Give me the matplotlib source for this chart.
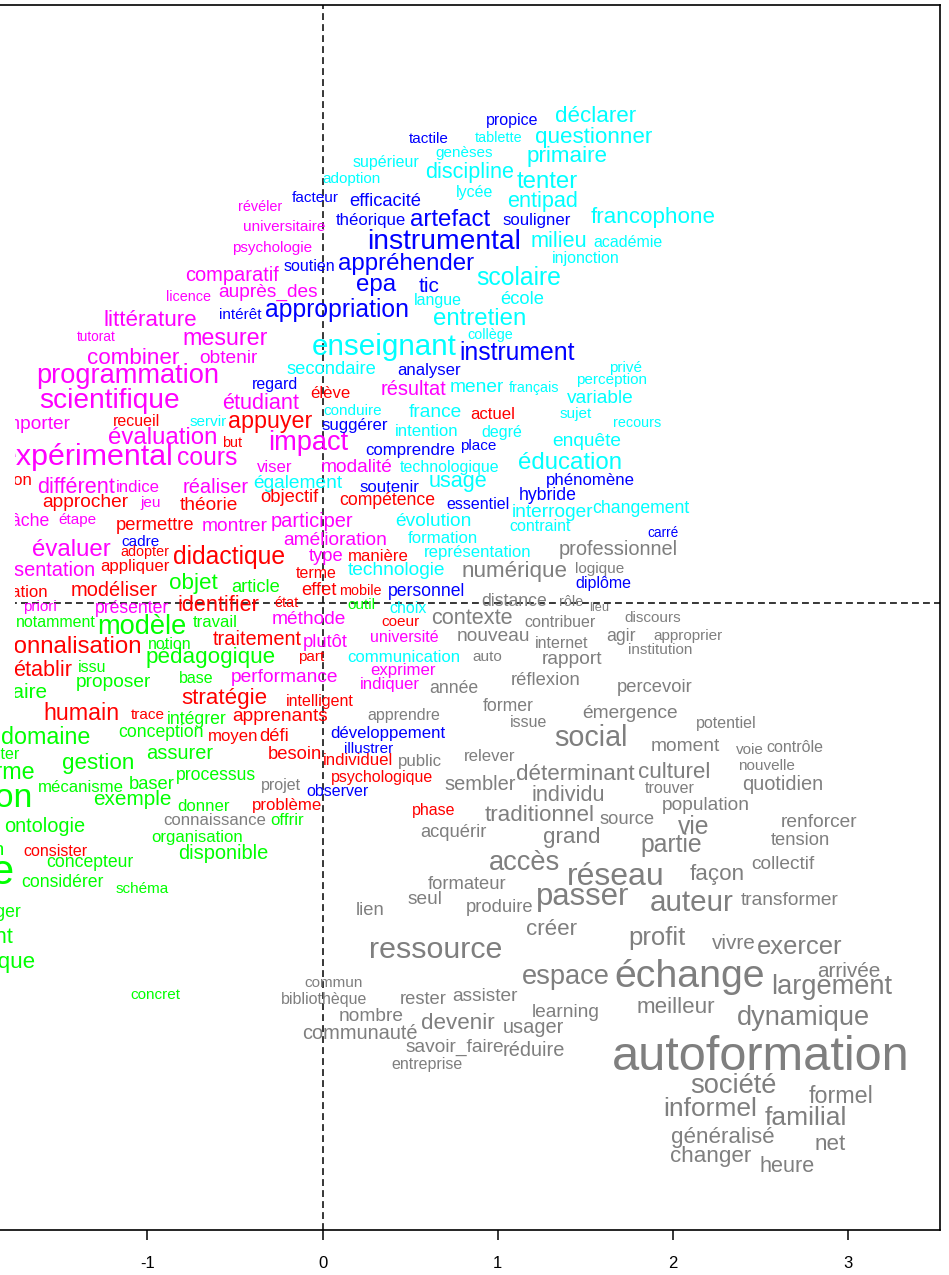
import matplotlib
matplotlib.use("Agg")
import matplotlib.pyplot as plt
from matplotlib.patches import Rectangle

plt.rcParams['font.family'] = ['Liberation Sans', 'DejaVu Sans']

###########################
# Data (factor coordinates, relative text size)
###########################

magenta_words = ['révéler', 'universitaire', 'psychologie', 'comparatif', 'licence', 'auprès_des',
                 'littérature', 'tutorat', 'mesurer', 'combiner', 'obtenir', 'programmation',
                 'scientifique', 'étudiant', 'résultat', 'importer', 'évaluation', 'impact',
                 'expérimental', 'cours', 'viser', 'différent', 'indice', 'réaliser', 'jeu',
                 'tâche', 'étape', 'montrer', 'participer', 'amélioration', 'évaluer', 'type',
                 'présentation', 'modalité', 'priori', 'présenter', 'méthode', 'plutôt',
                 'université', 'performance', 'exprimer', 'indiquer']
magenta_x = [-0.357, -0.220, -0.288, -0.517, -0.768, -0.311, -0.985, -1.294, -0.557, -1.082,
             -0.540, -1.111, -1.214, -0.351, 0.517, -1.636, -0.911, -0.083, -1.345, -0.660,
             -0.271, -1.408, -1.054, -0.608, -0.979, -1.682, -1.402, -0.500, -0.060, 0.071,
             -1.436, 0.020, -1.608, 0.197, -1.613, -1.088, -0.077, 0.014, 0.465, -0.214,
             0.460, 0.385]
magenta_y = [2.262, 2.147, 2.027, 1.873, 1.748, 1.776, 1.616, 1.519, 1.513, 1.399,
             1.399, 1.296, 1.154, 1.142, 1.222, 1.022, 0.942, 0.914, 0.834, 0.828,
             0.771, 0.662, 0.662, 0.662, 0.571, 0.468, 0.474, 0.434, 0.463, 0.354,
             0.303, 0.263, 0.188, 0.771, -0.023, -0.029, -0.097, -0.228, -0.200, -0.423,
             -0.383, -0.468]
magenta_cex = [0.9, 0.95, 0.95, 1.25, 0.9, 1.2, 1.4, 0.85, 1.45, 1.4,
               1.2, 1.7, 1.75, 1.35, 1.25, 1.2, 1.5, 1.7, 1.9, 1.55,
               1.05, 1.35, 1.05, 1.25, 0.95, 1.1, 0.95, 1.2, 1.25, 1.2,
               1.5, 1.15, 1.25, 1.2, 0.95, 1.1, 1.2, 1.15, 1.0, 1.2,
               1.05, 1.05]

blue_words = ['propice', 'tactile', 'facteur', 'efficacité', 'théorique', 'artefact', 'souligner',
              'instrumental', 'soutien', 'appréhender', 'epa', 'tic', 'intérêt', 'appropriation',
              'instrument', 'regard', 'analyser', 'suggérer', 'comprendre', 'place', 'phénomène',
              'soutenir', 'hybride', 'essentiel', 'cadre', 'carré', 'diplôme', 'personnel',
              'développement', 'illustrer', 'observer']
blue_x = [1.082, 0.608, -0.043, 0.357, 0.277, 0.728, 1.225, 0.694, -0.077, 0.477,
          0.306, 0.608, -0.471, 0.083, 1.111, -0.271, 0.608, 0.186, 0.500, 0.888,
          1.528, 0.380, 1.288, 0.888, -1.042, 1.945, 1.602, 0.597, 0.374, 0.266, 0.083]
blue_y = [2.758, 2.650, 2.313, 2.290, 2.182, 2.187, 2.187, 2.062, 1.919, 1.936,
          1.816, 1.805, 1.645, 1.673, 1.428, 1.245, 1.325, 1.011, 0.868, 0.897,
          0.702, 0.657, 0.611, 0.560, 0.348, 0.400, 0.114, 0.063, -0.748, -0.834, -1.079]
blue_cex = [1.0, 0.95, 0.95, 1.15, 1.05, 1.5, 1.05, 1.77, 1.0, 1.5,
            1.5, 1.3, 0.95, 1.55, 1.55, 1.0, 1.05, 1.05, 1.05, 0.95,
            1.05, 1.05, 1.1, 1.0, 0.95, 0.85, 1.0, 1.1, 1.05, 0.95, 1.0]

cyan_words = ['déclarer', 'tablette', 'questionner', 'genèses', 'primaire', 'supérieur',
              'discipline', 'tenter', 'adoption', 'lycée', 'entipad', 'francophone', 'milieu',
              'académie', 'injonction', 'scolaire', 'langue', 'école', 'entretien', 'collège',
              'enseignant', 'secondaire', 'privé', 'perception', 'mener', 'français',
              'variable', 'servir', 'conduire', 'france', 'sujet', 'recours', 'intention',
              'degré', 'enquête', 'éducation', 'technologique', 'également', 'usage',
              'interroger', 'changement', 'évolution', 'contraint', 'formation',
              'représentation', 'technologie', 'choix', 'communication']
cyan_x = [1.562, 1.008, 1.551, 0.808, 1.396, 0.363, 0.842, 1.282, 0.168, 0.871,
          1.254, 1.887, 1.351, 1.745, 1.505, 1.122, 0.660, 1.139, 0.899, 0.957,
          0.351, 0.049, 1.733, 1.653, 0.882, 1.208, 1.585, -0.654, 0.174, 0.642,
          1.448, 1.796, 0.597, 1.025, 1.511, 1.413, 0.728, -0.140, 0.774, 1.311,
          1.819, 0.631, 1.242, 0.688, 0.888, 0.425, 0.488, 0.465]
cyan_y = [2.776, 2.656, 2.661, 2.570, 2.547, 2.513, 2.461, 2.404, 2.421, 2.347,
          2.290, 2.204, 2.062, 2.056, 1.965, 1.856, 1.730, 1.736, 1.622, 1.531,
          1.462, 1.336, 1.342, 1.274, 1.228, 1.228, 1.165, 1.034, 1.097, 1.085,
          1.079, 1.028, 0.982, 0.971, 0.925, 0.800, 0.771, 0.680, 0.691, 0.514,
          0.537, 0.463, 0.434, 0.371, 0.286, 0.183, -0.029, -0.314]
cyan_cex = [1.4, 0.9, 1.4, 0.95, 1.4, 1.0, 1.35, 1.5, 0.95, 1.0,
            1.35, 1.4, 1.35, 1.0, 1.0, 1.55, 1.0, 1.15, 1.5, 0.9,
            1.85, 1.15, 0.95, 0.95, 1.2, 0.9, 1.2, 0.95, 0.95, 1.2,
            0.95, 0.9, 1.05, 1.0, 1.2, 1.5, 1.0, 1.2, 1.35, 1.2,
            1.1, 1.2, 1.0, 1.05, 1.05, 1.2, 1.0, 1.05]

red_words = ['élève', 'recueil', 'appuyer', 'but', 'actuel', 'action', 'approcher', 'théorie',
             'objectif', 'compétence', 'permettre', 'adopter', 'didactique', 'manière',
             'appliquer', 'terme', 'situation', 'modéliser', 'effet', 'mobile', 'identifier',
             'état', 'coeur', 'personnalisation', 'traitement', 'part', 'établir', 'stratégie',
             'intelligent', 'humain', 'trace', 'apprenants', 'moyen', 'défi', 'besoin',
             'individuel', 'psychologique', 'problème', 'phase', 'consister']
red_x = [0.043, -1.065, -0.300, -0.517, 0.974, -1.785, -1.356, -0.648, -0.191, 0.368,
         -0.957, -1.014, -0.534, 0.317, -1.071, -0.037, -1.745, -1.191, -0.020, 0.214,
         -0.597, -0.208, 0.448, -1.528, -0.374, -0.066, -1.596, -0.563, -0.014, -1.379,
         -0.997, -0.243, -0.511, -0.277, -0.157, 0.203, 0.340, -0.203, 0.637, -1.528]
red_y = [1.199, 1.034, 1.039, 0.914, 1.074, 0.702, 0.571, 0.554, 0.600, 0.583,
         0.445, 0.291, 0.263, 0.263, 0.206, 0.171, 0.057, 0.069, 0.069, 0.069,
         -0.017, 0.000, -0.109, -0.251, -0.206, -0.308, -0.383, -0.543, -0.565, -0.634,
         -0.640, -0.651, -0.760, -0.765, -0.868, -0.902, -0.994, -1.154, -1.188, -1.422]
red_cex = [1.05, 1.0, 1.45, 0.9, 1.05, 1.05, 1.2, 1.2, 1.15, 1.1,
           1.15, 0.9, 1.55, 1.05, 1.05, 1.0, 1.05, 1.25, 1.15, 0.9,
           1.35, 0.9, 0.95, 1.5, 1.25, 0.95, 1.35, 1.4, 1.0, 1.45,
           0.95, 1.2, 1.05, 1.15, 1.15, 1.05, 1.0, 1.05, 1.0, 1.0]

green_words = ['objet', 'article', 'outil', 'notamment', 'modèle', 'travail', 'notion',
               'pédagogique', 'issu', 'base', 'proposer', 'vocabulaire', 'intégrer', 'domaine',
               'adapter', 'conception', 'assurer', 'gestion', 'forme', 'mécanisme', 'baser',
               'processus', 'information', 'exemple', 'donner', 'ontologie', 'offrir',
               'organisation', 'définition', 'disponible', 'concepteur', 'apprentissage',
               'considérer', 'schéma', 'partager', 'document', 'sémantique', 'concret']
green_x = [-0.740, -0.380, 0.220, -1.522, -1.031, -0.614, -0.871, -0.637, -1.316, -0.722,
           -1.196, -1.870, -0.717, -1.579, -1.882, -0.922, -0.814, -1.282, -1.808, -1.379,
           -0.974, -0.608, -2.127, -1.088, -0.677, -1.585, -0.203, -0.717, -2.036, -0.568,
           -1.328, -2.504, -1.488, -1.031, -1.905, -2.036, -1.973, -0.957]
green_y = [0.109, 0.091, -0.011, -0.114, -0.137, -0.114, -0.240, -0.314, -0.366, -0.434,
           -0.457, -0.514, -0.668, -0.771, -0.868, -0.742, -0.857, -0.914, -0.971, -1.051,
           -1.039, -0.988, -1.114, -1.125, -1.165, -1.279, -1.245, -1.342, -1.416, -1.428,
           -1.485, -1.542, -1.599, -1.633, -1.770, -1.913, -2.056, -2.239]
green_cex = [1.4, 1.15, 0.95, 1.0, 1.7, 1.05, 1.0, 1.4, 1.0, 1.0,
             1.2, 1.3, 1.1, 1.45, 1.0, 1.1, 1.25, 1.4, 1.45, 1.05,
             1.15, 1.1, 2.1, 1.3, 1.05, 1.25, 1.05, 1.05, 1.2, 1.25,
             1.1, 2.6, 1.1, 0.95, 1.1, 1.35, 1.4, 0.95]

gray_words = ['professionnel', 'numérique', 'logique', 'distance', 'rôle', 'lieu', 'contexte',
              'contribuer', 'discours', 'nouveau', 'internet', 'agir', 'approprier',
              'institution', 'auto', 'rapport', 'réflexion', 'année', 'percevoir',
              'connaissance', 'projet', 'apprendre', 'former', 'issue', 'émergence',
              'potentiel', 'social', 'moment', 'voie', 'contrôle', 'public', 'relever',
              'nouvelle', 'déterminant', 'culturel', 'quotidien', 'sembler', 'trouver',
              'individu', 'population', 'traditionnel', 'source', 'vie', 'renforcer',
              'acquérir', 'grand', 'partie', 'tension', 'accès', 'collectif', 'réseau',
              'façon', 'formateur', 'passer', 'auteur', 'transformer', 'seul', 'produire',
              'lien', 'créer', 'profit', 'vivre', 'exercer', 'ressource', 'arrivée', 'espace',
              'échange', 'largement', 'commun', 'bibliothèque', 'rester', 'assister',
              'learning', 'meilleur', 'dynamique', 'nombre', 'devenir', 'usager',
              'communauté', 'savoir_faire', 'réduire', 'entreprise', 'autoformation',
              'société', 'formel', 'informel', 'familial', 'généralisé', 'net', 'changer',
              'heure']
gray_x = [1.688, 1.094, 1.585, 1.094, 1.419, 1.579, 0.854, 1.356, 1.887, 0.974,
          1.368, 1.705, 2.087, 1.927, 0.939, 1.425, 1.276, 0.751, 1.899, -0.614,
          -0.237, 0.465, 1.059, 1.174, 1.756, 2.304, 1.533, 2.070, 2.441, 2.698,
          0.557, 0.957, 2.533, 1.442, 2.007, 2.630, 0.899, 1.985, 1.402, 2.190,
          1.242, 1.739, 2.122, 2.835, 0.745, 1.425, 1.990, 2.727, 1.151, 2.630,
          1.676, 2.253, 0.825, 1.488, 2.110, 2.670, 0.585, 1.014, 0.271, 1.305,
          1.910, 2.350, 2.727, 0.648, 3.007, 1.391, 2.099, 2.910, 0.066, 0.009,
          0.574, 0.928, 1.391, 2.019, 2.744, 0.277, 0.774, 1.202, 0.214, 0.757,
          1.208, 0.597, 2.504, 2.344, 2.961, 2.213, 2.761, 2.287, 2.898, 2.219,
          2.653]
gray_y = [0.303, 0.177, 0.194, 0.011, 0.006, -0.029, -0.091, -0.109, -0.086, -0.194,
          -0.234, -0.194, -0.188, -0.268, -0.308, -0.320, -0.440, -0.491, -0.480, -1.245,
          -1.045, -0.645, -0.594, -0.685, -0.634, -0.691, -0.771, -0.817, -0.839, -0.828,
          -0.908, -0.879, -0.931, -0.977, -0.971, -1.034, -1.034, -1.062, -1.102, -1.159,
          -1.211, -1.239, -1.279, -1.256, -1.308, -1.342, -1.382, -1.359, -1.485, -1.491,
          -1.565, -1.553, -1.605, -1.679, -1.713, -1.702, -1.696, -1.742, -1.759, -1.867,
          -1.913, -1.942, -1.965, -1.982, -2.107, -2.136, -2.136, -2.193, -2.170, -2.267,
          -2.267, -2.250, -2.336, -2.313, -2.370, -2.364, -2.404, -2.427, -2.461, -2.536,
          -2.553, -2.638, -2.593, -2.758, -2.821, -2.890, -2.941, -3.055, -3.095, -3.164,
          -3.221]
gray_cex = [1.25, 1.4, 0.95, 1.1, 0.9, 0.8, 1.35, 1.0, 0.95, 1.2,
            1.0, 1.1, 0.95, 0.95, 0.95, 1.2, 1.15, 1.1, 1.15, 1.05,
            1.0, 1.0, 1.1, 1.0, 1.2, 1.0, 1.8, 1.2, 0.95, 1.0,
            1.05, 1.05, 0.95, 1.4, 1.4, 1.25, 1.25, 1.0, 1.35, 1.2,
            1.4, 1.15, 1.55, 1.2, 1.15, 1.4, 1.55, 1.15, 1.7, 1.2,
            2.0, 1.4, 1.15, 1.95, 1.85, 1.2, 1.2, 1.15, 1.15, 1.4,
            1.6, 1.3, 1.6, 1.9, 1.3, 1.7, 2.45, 1.7, 0.95, 1.0,
            1.15, 1.2, 1.2, 1.4, 1.7, 1.2, 1.4, 1.25, 1.25, 1.2,
            1.25, 1.0, 3.05, 1.7, 1.45, 1.65, 1.65, 1.4, 1.4, 1.4,
            1.35]

x_ticks = [-1, 0, 1, 2, 3]

###########################
# Plot
###########################

BASE_PT = 11.52  # cex 1 -> 16 px at 100 dpi

clusters = [
    (magenta_words, magenta_x, magenta_y, magenta_cex, '#FF00FF'),
    (blue_words, blue_x, blue_y, blue_cex, '#0000FF'),
    (cyan_words, cyan_x, cyan_y, cyan_cex, '#00FFFF'),
    (red_words, red_x, red_y, red_cex, '#FF0000'),
    (green_words, green_x, green_y, green_cex, '#00FF00'),
    (gray_words, gray_x, gray_y, gray_cex, '#7F7F7F'),
]

fig = plt.figure(figsize=(9.49, 12.75), dpi=100)
ax = fig.add_axes([-0.02107, 0.03529, 1.01159, 0.96078])
ax.set_xlim(-1.956, 3.5265)
ax.set_ylim(-3.581, 3.415)

for words, xs, ys, cexs, color in clusters:
    for w, x, y, c in zip(words, xs, ys, cexs):
        ax.text(x, y, w, color=color, fontsize=c * BASE_PT,
                ha='center', va='center', clip_on=True)

# the source image has a blank strip along its left edge in the upper half
ax.add_patch(Rectangle((-1.956, -0.668), 0.2, 4.05, facecolor='white',
                       edgecolor='none', zorder=3.5))

ax.axvline(0, color='black', lw=1.1, dashes=(4.5, 2.7))
ax.axhline(0, color='black', lw=1.1, dashes=(4.5, 2.7))

ax.set_xticks(x_ticks)
ax.set_xticklabels([str(t) for t in x_ticks])
ax.set_yticks([])
ax.tick_params(axis='x', length=7.5, width=1.1, pad=11, labelsize=12)
for side in ['top', 'right', 'bottom', 'left']:
    ax.spines[side].set_linewidth(1.2)
    ax.spines[side].set_zorder(4)

plt.savefig('out.png', dpi=100)
